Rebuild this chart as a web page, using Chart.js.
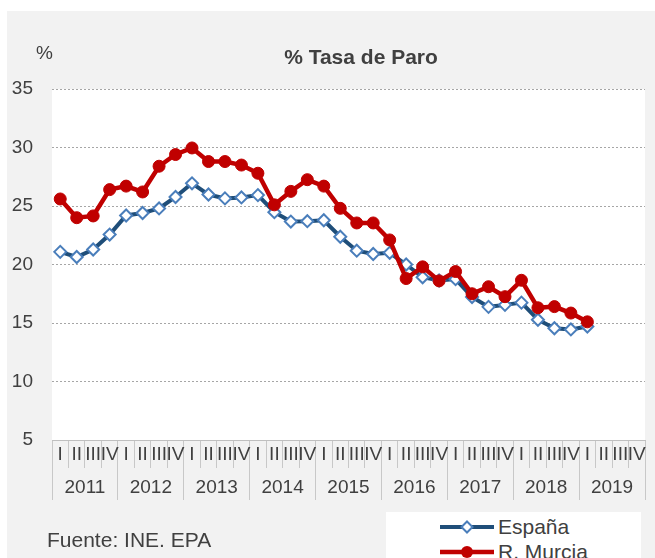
<!DOCTYPE html>
<html>
<head>
<meta charset="utf-8">
<script src="https://cdn.jsdelivr.net/npm/chart.js@4"></script>
<style>
  body { margin: 0; background: #fff; overflow: hidden; font-family: 'Liberation Sans', Arial, sans-serif; color: #404040; }
  #wrap { position: absolute; left: 7px; top: 11px; width: 648px; height: 547px; background: #f2f2f2; overflow: hidden; }
  #chart { position: absolute; left: 0; top: 0; }
  .txt { position: absolute; white-space: nowrap; }
  #title { left: 0; width: 708px; top: 34px; line-height: 24px; font-size: 21px; font-weight: bold; text-align: center; }
  #unit { left: 29px; top: 30px; line-height: 24px; font-size: 19px; }
  #source { left: 40px; top: 517px; line-height: 24px; font-size: 21px; }
  #legend { position: absolute; left: 379px; top: 501px; width: 255px; height: 60px; background: #fff; }
  .item { position: absolute; left: 53px; width: 200px; height: 24px; line-height: 24px; font-size: 21px; white-space: nowrap; }
  .item canvas { position: absolute; left: 0; top: 5px; }
  .item span { position: absolute; left: 59px; top: 0; white-space: nowrap; }
</style>
</head>
<body>
<div id="wrap">
  <canvas id="chart" width="648" height="547"></canvas>
  <div class="txt" id="unit">%</div>
  <div class="txt" id="title">% Tasa de Paro</div>
  <div class="txt" id="source">Fuente: INE. EPA</div>
  <div id="legend">
    <div class="item" style="top:3px"><canvas id="swEs" width="56" height="14"></canvas><span>España</span></div>
    <div class="item" style="top:28px"><canvas id="swMu" width="56" height="14"></canvas><span>R. Murcia</span></div>
  </div>
</div>
<script>
// Tasa de paro EPA, trimestral 2011 I - 2019 I
const years = ['2011', '2012', '2013', '2014', '2015', '2016', '2017', '2018', '2019'];
const quarters = ['I', 'II', 'III', 'IV'];
const espana = [21.08, 20.64, 21.28, 22.56, 24.19, 24.40, 24.79, 25.77, 26.94, 25.98, 25.65, 25.73,
                25.93, 24.47, 23.67, 23.70, 23.78, 22.37, 21.18, 20.90, 21.00, 20.00, 18.91, 18.63,
                18.75, 17.22, 16.38, 16.55, 16.74, 15.28, 14.55, 14.45, 14.70];
const murcia = [25.6, 24.0, 24.15, 26.4, 26.7, 26.2, 28.4, 29.4, 29.96, 28.8, 28.8, 28.5,
                27.8, 25.1, 26.25, 27.25, 26.7, 24.8, 23.55, 23.55, 22.1, 18.8, 19.8, 18.6,
                19.4, 17.5, 18.1, 17.25, 18.65, 16.3, 16.4, 15.85, 15.1];
const yTicks = { min: 5, max: 35, step: 5 };

const quarterLabels = [];
years.forEach(() => quarters.forEach(q => quarterLabels.push(q)));

const ES_LINE = '#1f4e79', ES_MARK = '#4a7ebb', MU = '#c00000';

Chart.defaults.font.family = "'Liberation Sans', Arial, sans-serif";
Chart.defaults.color = '#404040';

// white plot area over the grey panel
const plotBg = {
    id: 'plotBg',
    beforeDraw(chart) {
        const { ctx, chartArea: a } = chart;
        ctx.save();
        ctx.fillStyle = '#ffffff';
        ctx.fillRect(a.left, a.top, a.right - a.left, a.bottom - a.top);
        ctx.restore();
    }
};

new Chart(document.getElementById('chart'), {
    type: 'line',
    data: {
        labels: quarterLabels,
        datasets: [{
            label: 'España',
            data: espana,
            order: 1,
            borderColor: ES_LINE,
            borderWidth: 4,
            tension: 0,
            pointStyle: 'rectRot',
            pointRadius: 6,
            pointBorderWidth: 2,
            pointBorderColor: ES_MARK,
            pointBackgroundColor: '#ffffff'
        }, {
            label: 'R. Murcia',
            data: murcia,
            order: 0,
            borderColor: MU,
            borderWidth: 4.5,
            tension: 0,
            pointStyle: 'circle',
            pointRadius: 6,
            pointBorderWidth: 1,
            pointBorderColor: MU,
            pointBackgroundColor: MU
        }]
    },
    options: {
        responsive: false,
        animation: false,
        layout: { padding: { top: 78, right: 10, bottom: 58, left: 0 } },
        plugins: {
            legend: { display: false },
            tooltip: { enabled: false }
        },
        scales: {
            y: {
                min: yTicks.min,
                max: yTicks.max,
                ticks: { stepSize: yTicks.step, padding: 19, font: { size: 19 } },
                grid: {
                    drawTicks: false,
                    color: c => c.tick.value === yTicks.min ? 'rgba(0,0,0,0)' : '#a6a6a6'
                },
                border: { display: false, dash: [2, 2] },
                afterFit: s => { s.width = 45; }
            },
            x: {
                type: 'category',
                weight: 0,
                offset: true,
                grid: { offset: true, drawOnChartArea: false, tickLength: 28, color: '#c8c8c8' },
                border: { display: true, color: '#bfbfbf' },
                ticks: { autoSkip: false, minRotation: 0, maxRotation: 0, padding: -25, font: { size: 19 } },
                afterFit: s => { s.height = 28; }
            },
            x2: {
                type: 'category',
                labels: years,
                position: 'bottom',
                weight: 1,
                offset: true,
                grid: { offset: true, drawOnChartArea: false, tickLength: 32, color: '#c8c8c8' },
                border: { display: false },
                ticks: { autoSkip: false, minRotation: 0, maxRotation: 0, padding: -24, font: { size: 19 } },
                afterFit: s => { s.height = 32; }
            }
        }
    },
    plugins: [plotBg]
});

// legend swatches: line with marker in the middle
function swatch(id, lineColor, lineW, drawMark) {
    const c = document.getElementById(id).getContext('2d');
    c.strokeStyle = lineColor;
    c.lineWidth = lineW;
    c.beginPath(); c.moveTo(1, 7); c.lineTo(55, 7); c.stroke();
    drawMark(c, 28, 7);
}
swatch('swEs', ES_LINE, 4, (c, x, y) => {
    c.beginPath();
    c.moveTo(x, y - 5.5); c.lineTo(x + 5.5, y); c.lineTo(x, y + 5.5); c.lineTo(x - 5.5, y); c.closePath();
    c.fillStyle = '#fff'; c.fill();
    c.strokeStyle = ES_MARK; c.lineWidth = 2; c.stroke();
});
swatch('swMu', MU, 4.5, (c, x, y) => {
    c.beginPath(); c.arc(x, y, 6, 0, Math.PI * 2);
    c.fillStyle = MU; c.fill();
});
</script>
</body>
</html>
